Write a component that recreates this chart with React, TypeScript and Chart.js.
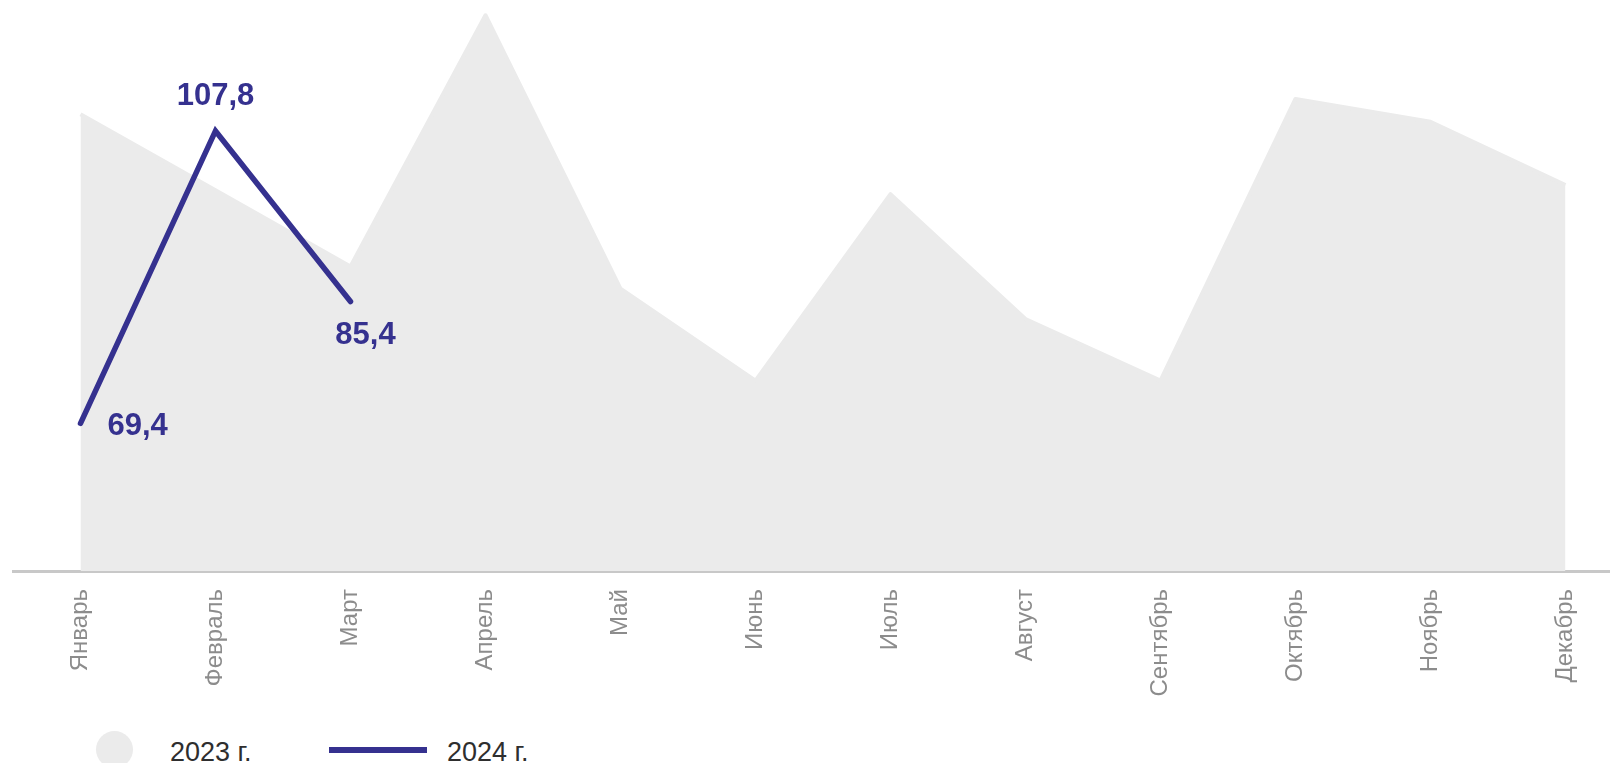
import React, { useEffect, useRef } from 'react';
import { Chart, registerables } from 'chart.js';

Chart.register(...registerables);

// ---- data ----
const months = ['Январь', 'Февраль', 'Март', 'Апрель', 'Май', 'Июнь', 'Июль', 'Август', 'Сентябрь', 'Октябрь', 'Ноябрь', 'Декабрь'];
const values2023 = [110, 100, 90, 123, 87.1, 75, 99.5, 83.1, 75, 112, 109, 100.7];
const values2024 = [69.4, 107.8, 85.4];
const seriesNames = ['2023 г.', '2024 г.'];
const yMin = 50;
const yMax = 125;

// ---- style ----
const BLUE = '#35318f';
const GRAY = '#ebebeb';
const FONT = '"Liberation Sans", Arial, Helvetica, sans-serif';
const labelPlacement = ['right', 'above', 'belowRight'];

const fmt = (v: number) => v.toFixed(1).replace('.', ',');

const valueLabels = {
  id: 'valueLabels',
  afterDatasetsDraw(chart: any) {
    const meta = chart.getDatasetMeta(1);
    const ctx = chart.ctx;
    ctx.save();
    ctx.font = `bold 31px ${FONT}`;
    ctx.fillStyle = BLUE;
    ctx.textBaseline = 'middle';
    meta.data.forEach((pt: any, i: number) => {
      const text = fmt(values2024[i]);
      const place = labelPlacement[i];
      let x = pt.x;
      let y = pt.y;
      if (place === 'right') {
        ctx.textAlign = 'left';
        x += 27;
        y += 3;
      } else if (place === 'above') {
        ctx.textAlign = 'center';
        y -= 34;
      } else {
        ctx.textAlign = 'center';
        x += 15;
        y += 34;
      }
      ctx.fillText(text, x, y);
    });
    ctx.restore();
  },
};

export default function App() {
  const ref = useRef<HTMLCanvasElement>(null);

  useEffect(() => {
    if (!ref.current) return;
    const chart = new Chart(ref.current, {
      type: 'line',
      data: {
        datasets: [
          {
            label: seriesNames[0],
            data: values2023.map((v, i) => ({ x: i, y: v })),
            backgroundColor: GRAY,
            borderColor: GRAY,
            borderWidth: 4,
            borderJoinStyle: 'round',
            fill: 'start',
            pointRadius: 0,
            order: 2,
          },
          {
            label: seriesNames[1],
            data: values2024.map((v, i) => ({ x: i, y: v })),
            borderColor: BLUE,
            backgroundColor: BLUE,
            borderWidth: 5.5,
            borderCapStyle: 'round',
            fill: false,
            pointRadius: 0,
            order: 1,
          },
        ],
      },
      options: {
        responsive: false,
        animation: false,
        layout: { padding: { left: 13, right: 0, top: 0, bottom: 0 } },
        plugins: { legend: { display: false }, tooltip: { enabled: false } },
        scales: {
          x: {
            type: 'linear',
            min: -0.5,
            max: 11.33,
            z: 1,
            grid: { display: false, drawTicks: false },
            border: { display: true, color: '#c8c8c8', width: 3 },
            afterBuildTicks: (s: any) => {
              s.ticks = months.map((_, i) => ({ value: i }));
            },
            afterFit: (s: any) => {
              s.height = 130;
              s.paddingLeft = 0;
              s.paddingRight = 0;
            },
            ticks: {
              callback: (v: any) => months[v] ?? '',
              minRotation: 90,
              maxRotation: 90,
              autoSkip: false,
              padding: 18,
              color: '#8c8c8c',
              font: { family: FONT, size: 24 },
            },
          },
          y: { display: false, min: yMin, max: yMax },
        },
      },
      plugins: [valueLabels],
    } as any);
    return () => chart.destroy();
  }, []);

  const textStyle: React.CSSProperties = {
    position: 'absolute',
    top: 739,
    fontFamily: FONT,
    fontSize: 27,
    lineHeight: '27px',
    color: '#2e2e2e',
    whiteSpace: 'nowrap',
  };

  return (
    <div style={{ position: 'absolute', left: 0, top: 0, width: 1610, height: 763, overflow: 'hidden', background: '#fff' }}>
      <canvas ref={ref} width={1610} height={701} style={{ position: 'absolute', left: 0, top: 0, width: 1610, height: 701 }} />
      <div style={{ position: 'absolute', left: 96, top: 731, width: 37, height: 37, borderRadius: '50%', background: GRAY }} />
      <div style={{ ...textStyle, left: 170 }}>{seriesNames[0]}</div>
      <div style={{ position: 'absolute', left: 329, top: 747, width: 98, height: 6, background: BLUE }} />
      <div style={{ ...textStyle, left: 447 }}>{seriesNames[1]}</div>
    </div>
  );
}
